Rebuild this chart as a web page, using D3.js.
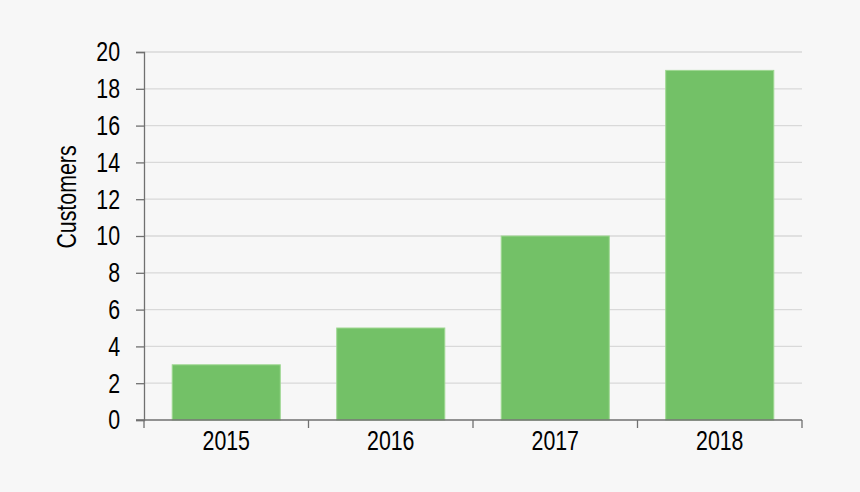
<!DOCTYPE html>
<html>
<head>
<meta charset="utf-8">
<script src="https://cdn.jsdelivr.net/npm/d3@7"></script>
<style>
  body { margin: 0; background: #f7f7f7; }
  svg { display: block; }
  text { font-family: "Liberation Sans", Arial, sans-serif; fill: #000; }
</style>
</head>
<body>
<script>
// data
const years = ["2015", "2016", "2017", "2018"];
const customers = [3, 5, 10, 19];
const yTicks = [0, 2, 4, 6, 8, 10, 12, 14, 16, 18, 20];

// dimensions
const width = 860, height = 492;
const margin = {top: 52, right: 58, bottom: 72, left: 144};
const fontSize = 27;
const narrow = 0.79; // squeeze text to look like Arial Narrow

const svg = d3.select("body").append("svg")
  .attr("width", width)
  .attr("height", height);

svg.append("rect").attr("width", width).attr("height", height).attr("fill", "#f7f7f7");

const xScale = d3.scaleBand()
  .domain(years)
  .range([margin.left, width - margin.right])
  .paddingInner(0.343)
  .paddingOuter(0.343 / 2);

const yScale = d3.scaleLinear()
  .domain([0, 20])
  .range([height - margin.bottom, margin.top]);

// gridlines
svg.append("g")
  .selectAll("line")
  .data(yTicks.filter(d => d > 0))
  .enter()
  .append("line")
  .attr("x1", margin.left)
  .attr("x2", width - margin.right)
  .attr("y1", d => yScale(d))
  .attr("y2", d => yScale(d))
  .attr("stroke", "#d9d9d9")
  .attr("stroke-width", 1.3);

// bars
svg.append("g")
  .selectAll("rect")
  .data(customers)
  .enter()
  .append("rect")
  .attr("x", (d, i) => xScale(years[i]))
  .attr("y", d => yScale(d))
  .attr("width", xScale.bandwidth())
  .attr("height", d => yScale(0) - yScale(d))
  .attr("fill", "#73c167")
  .attr("stroke", "#9fd892")
  .attr("stroke-width", 1);

// y axis (ticks only, labels drawn below)
const yAxis = svg.append("g")
  .attr("transform", `translate(${margin.left},0)`)
  .call(d3.axisLeft(yScale).tickValues(yTicks).tickSize(8).tickFormat(""));
yAxis.select(".domain").attr("stroke", "#707070").attr("stroke-width", 1.3);
yAxis.selectAll(".tick line").attr("stroke", "#707070").attr("stroke-width", 1.3);

svg.append("g")
  .selectAll("text")
  .data(yTicks)
  .enter()
  .append("text")
  .attr("transform", d => `translate(120,${yScale(d)}) scale(${narrow},1)`)
  .attr("dy", "0.35em")
  .attr("text-anchor", "end")
  .attr("font-size", fontSize)
  .text(d => d);

// x axis
const xAxisG = svg.append("g")
  .attr("transform", `translate(0,${yScale(0)})`);
xAxisG.append("line")
  .attr("x1", margin.left - 8)
  .attr("x2", width - margin.right)
  .attr("stroke", "#707070")
  .attr("stroke-width", 1.3);
const step = xScale.step();
const xEdges = d3.range(years.length + 1).map(i => margin.left + i * step);
xAxisG.selectAll("line.xtick")
  .data(xEdges)
  .enter()
  .append("line")
  .attr("class", "xtick")
  .attr("x1", d => d).attr("x2", d => d)
  .attr("y1", 0).attr("y2", 8)
  .attr("stroke", "#707070")
  .attr("stroke-width", 1.3);
xAxisG.selectAll("text")
  .data(years)
  .enter()
  .append("text")
  .attr("transform", d => `translate(${xScale(d) + xScale.bandwidth() / 2},30) scale(${narrow},1)`)
  .attr("text-anchor", "middle")
  .attr("font-size", fontSize)
  .text(d => d);

// y label
svg.append("text")
  .attr("transform", `translate(76,197) rotate(-90) scale(${narrow},1)`)
  .attr("text-anchor", "middle")
  .attr("font-size", fontSize)
  .text("Customers");
</script>
</body>
</html>
